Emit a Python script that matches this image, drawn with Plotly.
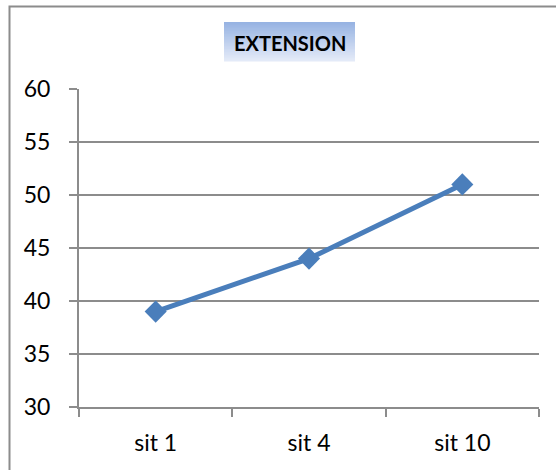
import plotly.graph_objects as go

categories = ["sit 1", "sit 4", "sit 10"]
values = [39, 44, 51]
y_ticks = [30, 35, 40, 45, 50, 55, 60]
title_text = "EXTENSION"

W, H = 556, 470
L, R, T, B = 79, 539, 89, 407

def px_x(px):
    return (px - L) / (R - L)

def px_y(py):
    return (B - py) / (B - T)

fig = go.Figure()
fig.add_trace(go.Scatter(
    x=categories, y=values, mode="lines+markers",
    line=dict(color="#4A7EBB", width=5),
    marker=dict(symbol="diamond", size=17, color="#4A7EBB"),
    showlegend=False, hoverinfo="skip",
))

shapes = []
shapes.append(dict(type="rect", xref="paper", yref="paper",
                   x0=px_x(9.5), x1=px_x(620), y0=px_y(520), y1=px_y(6.5),
                   line=dict(color="#8C8C8C", width=2), layer="below"))
tx0, tx1, ty0, ty1 = 224, 355, 22, 61
n = 26
top_c = (0x97, 0xB3, 0xE2)
bot_c = (0xE3, 0xEA, 0xF8)
for i in range(n):
    t = i / (n - 1)
    c = tuple(int(round(top_c[k] + (bot_c[k] - top_c[k]) * t)) for k in range(3))
    ya = ty0 + (ty1 - ty0) * i / n
    yb = ty0 + (ty1 - ty0) * (i + 1) / n
    shapes.append(dict(type="rect", xref="paper", yref="paper",
                       x0=px_x(tx0), x1=px_x(tx1), y0=px_y(yb + 0.5), y1=px_y(ya),
                       line=dict(width=0), fillcolor="rgb(%d,%d,%d)" % c, layer="below"))

fig.update_layout(
    width=W, height=H,
    margin=dict(l=L, r=W - R, t=T, b=H - B),
    paper_bgcolor="white", plot_bgcolor="white",
    font=dict(family="Lato, Calibri, sans-serif", size=23, color="#000000"),
    shapes=shapes,
    annotations=[dict(text="<b>%s</b>" % title_text, xref="paper", yref="paper",
                      x=px_x((tx0 + tx1) / 2), y=px_y((ty0 + ty1) / 2 + 1),
                      xanchor="center", yanchor="middle", showarrow=False,
                      font=dict(family="Lato, Calibri, sans-serif", size=20, color="#000000"))],
)
fig.update_xaxes(
    type="category", range=[-0.5, 2.5], tickson="boundaries",
    ticks="outside", ticklen=8, tickcolor="#8C8C8C", tickwidth=2,
    showline=True, linecolor="#8C8C8C", linewidth=2, showgrid=False,
    ticklabelstandoff=14, fixedrange=True,
)
fig.update_yaxes(
    range=[30, 60], tickvals=y_ticks, ticktext=[str(v) for v in y_ticks],
    ticks="outside", ticklen=8, tickcolor="#8C8C8C", tickwidth=2,
    showline=True, linecolor="#8C8C8C", linewidth=2,
    showgrid=True, gridcolor="#8C8C8C", gridwidth=2, zeroline=False,
    ticklabelstandoff=14, fixedrange=True,
)
fig.write_html("out.html", config={"displayModeBar": False, "staticPlot": True},
               post_script="document.body.style.margin='0';document.body.style.overflow='hidden';")
